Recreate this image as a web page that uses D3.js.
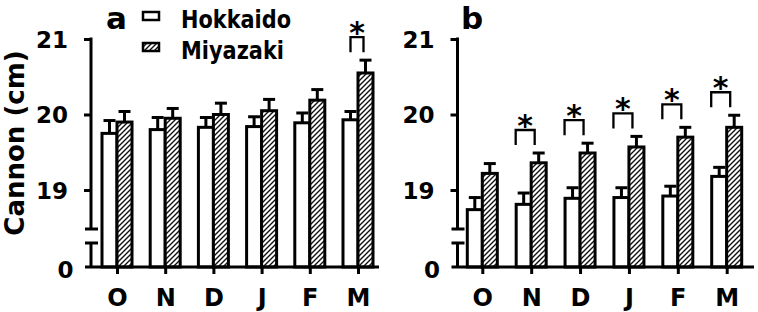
<!DOCTYPE html>
<html>
<head>
<meta charset="utf-8">
<script src="https://cdn.jsdelivr.net/npm/d3@7"></script>
<style>
  html, body { margin: 0; padding: 0; background: #fff; }
  svg { display: block; }
  text { font-family: "DejaVu Sans", sans-serif; font-weight: bold; fill: #000; }
</style>
</head>
<body>
<svg id="chart" width="758" height="312"></svg>
<script>
// ---- data ----
const months = ["O", "N", "D", "J", "F", "M"];
const seriesNames = ["Hokkaido", "Miyazaki"];
const yTickValues = [19, 20, 21];
const yZeroLabel = "0";
const yTitle = "Cannon (cm)";

// Panel a
const aHokkaido = [19.75, 19.80, 19.83, 19.84, 19.89, 19.93];
const aHokkaidoSE = [0.17, 0.16, 0.13, 0.13, 0.13, 0.11];
const aMiyazaki = [19.90, 19.95, 20.00, 20.05, 20.19, 20.55];
const aMiyazakiSE = [0.14, 0.13, 0.15, 0.15, 0.14, 0.17];
const aSignif = [false, false, false, false, false, true];

// Panel b
const bHokkaido = [18.74, 18.81, 18.89, 18.90, 18.92, 19.18];
const bHokkaidoSE = [0.16, 0.15, 0.14, 0.13, 0.13, 0.12];
const bMiyazaki = [19.22, 19.36, 19.49, 19.57, 19.70, 19.83];
const bMiyazakiSE = [0.13, 0.13, 0.13, 0.14, 0.13, 0.16];
const bSignif = [false, true, true, true, true, true];

// ---- drawing ----
const svg = d3.select("#chart");
const defs = svg.append("defs");
const pat = defs.append("pattern")
  .attr("id", "hatch").attr("patternUnits", "userSpaceOnUse")
  .attr("width", 5).attr("height", 5);
pat.append("rect").attr("width", 5).attr("height", 5).attr("fill", "#fff");
pat.append("path").attr("d", "M-1,6 L6,-1 M-1,1 L1,-1 M4,6 L6,4")
  .attr("stroke", "#111").attr("stroke-width", 1.4);

// broken y scale: 0 at the x axis, the upper part from ~18.49 to 21
const yTop = 39, y19 = 190, yBase = 267, yBreakHi = 229, yBreakLo = 243;
const unit = (y19 - yTop) / 2;
const brkVal = 19 - (yBreakHi - y19) / unit;
const y = d3.scaleLinear().domain([0, brkVal, 21]).range([yBase, yBreakHi, yTop]);

const barW = 15;
const SW = 3;

function panel(cfg) {
  const g = svg.append("g");
  const x = d3.scalePoint().domain(months).range(cfg.xRange);
  const H = cfg.h, M = cfg.m;
  const groups = months.map((m, i) => ({ m, i }));
  const series = [
    { vals: H, se: cfg.hse, off: -barW, fill: "#fff" },
    { vals: M, se: cfg.mse, off: 0, fill: "url(#hatch)" }
  ];
  series.forEach(s => {
    g.selectAll(null).data(groups).enter().append("line")
      .attr("x1", d => x(d.m) + s.off + barW / 2).attr("x2", d => x(d.m) + s.off + barW / 2)
      .attr("y1", d => y(s.vals[d.i])).attr("y2", d => y(s.vals[d.i] + s.se[d.i]))
      .attr("stroke", "#000").attr("stroke-width", SW);
    g.selectAll(null).data(groups).enter().append("line")
      .attr("x1", d => x(d.m) + s.off + barW / 2 - 6).attr("x2", d => x(d.m) + s.off + barW / 2 + 6)
      .attr("y1", d => y(s.vals[d.i] + s.se[d.i])).attr("y2", d => y(s.vals[d.i] + s.se[d.i]))
      .attr("stroke", "#000").attr("stroke-width", SW);
  });
  series.forEach(s => {
    g.selectAll(null).data(groups).enter().append("rect")
      .attr("x", d => x(d.m) + s.off).attr("width", barW)
      .attr("y", d => y(s.vals[d.i])).attr("height", d => y(0) - y(s.vals[d.i]))
      .attr("fill", s.fill).attr("stroke", "#000").attr("stroke-width", SW);
  });

  // significance brackets
  groups.filter(d => cfg.sig[d.i]).forEach(d => {
    const legBottom = y(M[d.i] + cfg.mse[d.i]) - 8;
    const top = legBottom - 15;
    const x1 = x(d.m) - barW / 2 + cfg.brL, x2 = x(d.m) + barW / 2 + cfg.brR;
    g.append("path")
      .attr("d", `M${x1},${legBottom} L${x1},${top} L${x2},${top} L${x2},${legBottom}`)
      .attr("fill", "none").attr("stroke", "#000").attr("stroke-width", 2.3);
    g.append("text").attr("x", (x1 + x2) / 2).attr("y", top - 11 + 16.5)
      .attr("text-anchor", "middle").attr("font-size", 30).text("*");
  });

  // y axis
  const ya = g.append("g").attr("transform", `translate(${cfg.axisX},0)`)
    .call(d3.axisLeft(y).tickValues(yTickValues).tickSize(7).tickPadding(16).tickFormat(d3.format("d")));
  ya.select(".domain").remove();
  ya.selectAll(".tick line").attr("stroke", "#000").attr("stroke-width", SW);
  ya.selectAll(".tick text").attr("font-size", 23).attr("font-family", "DejaVu Sans")
    .attr("font-weight", "bold").attr("fill", "#000").attr("dy", "0.36em");
  g.append("line").attr("x1", cfg.axisX).attr("x2", cfg.axisX)
    .attr("y1", yTop - 1.5).attr("y2", yBreakHi).attr("stroke", "#000").attr("stroke-width", SW);
  g.append("line").attr("x1", cfg.axisX).attr("x2", cfg.axisX)
    .attr("y1", yBreakLo).attr("y2", yBase).attr("stroke", "#000").attr("stroke-width", SW);
  [yBreakHi, yBreakLo].forEach(yy => {
    g.append("line").attr("x1", cfg.axisX - 6).attr("x2", cfg.axisX + 7)
      .attr("y1", yy).attr("y2", yy).attr("stroke", "#000").attr("stroke-width", SW);
  });
  g.append("text").attr("x", cfg.axisX - 17.5).attr("y", y(0) + 11)
    .attr("text-anchor", "end").attr("font-size", 23).text(yZeroLabel);

  // x axis
  const xa = g.append("g").attr("transform", `translate(0,${yBase})`)
    .call(d3.axisBottom(x).tickSize(7).tickPadding(25));
  xa.select(".domain").remove();
  xa.selectAll(".tick line").attr("stroke", "#000").attr("stroke-width", SW);
  xa.selectAll(".tick text").attr("font-size", 24).attr("font-family", "DejaVu Sans")
    .attr("font-weight", "bold").attr("fill", "#000").attr("dy", "0.3em");
  g.append("line").attr("x1", cfg.axisX - 6).attr("x2", cfg.xEnd)
    .attr("y1", yBase).attr("y2", yBase).attr("stroke", "#000").attr("stroke-width", SW);

  // panel letter
  g.append("text").attr("x", cfg.letterX).attr("y", 29).attr("font-size", 31).text(cfg.letter);
}

panel({ h: aHokkaido, hse: aHokkaidoSE, m: aMiyazaki, mse: aMiyazakiSE, sig: aSignif,
        xRange: [117, 358], axisX: 91, xEnd: 379, letter: "a", letterX: 106, brL: 0, brR: -2 });
panel({ h: bHokkaido, hse: bHokkaidoSE, m: bMiyazaki, mse: bMiyazakiSE, sig: bSignif,
        xRange: [482.3, 726.7], axisX: 457.5, xEnd: 754, letter: "b", letterX: 461, brL: -8, brR: -4 });

// y title
svg.append("text").attr("transform", "translate(24,143) rotate(-90)")
  .attr("text-anchor", "middle").attr("font-size", 26).text(yTitle);

// legend
const leg = svg.append("g");
const legFills = ["#fff", "url(#hatch)"];
const legY = [12, 43];
const legLen = [110, 103];
seriesNames.forEach((name, i) => {
  leg.append("rect").attr("x", 143).attr("y", legY[i]).attr("width", 16).attr("height", 8)
    .attr("fill", legFills[i]).attr("stroke", "#000").attr("stroke-width", 2.5);
  leg.append("text").attr("x", 181).attr("y", legY[i] + 16).attr("font-size", 24)
    .attr("textLength", legLen[i]).attr("lengthAdjust", "spacingAndGlyphs").text(name);
});
</script>
</body>
</html>
